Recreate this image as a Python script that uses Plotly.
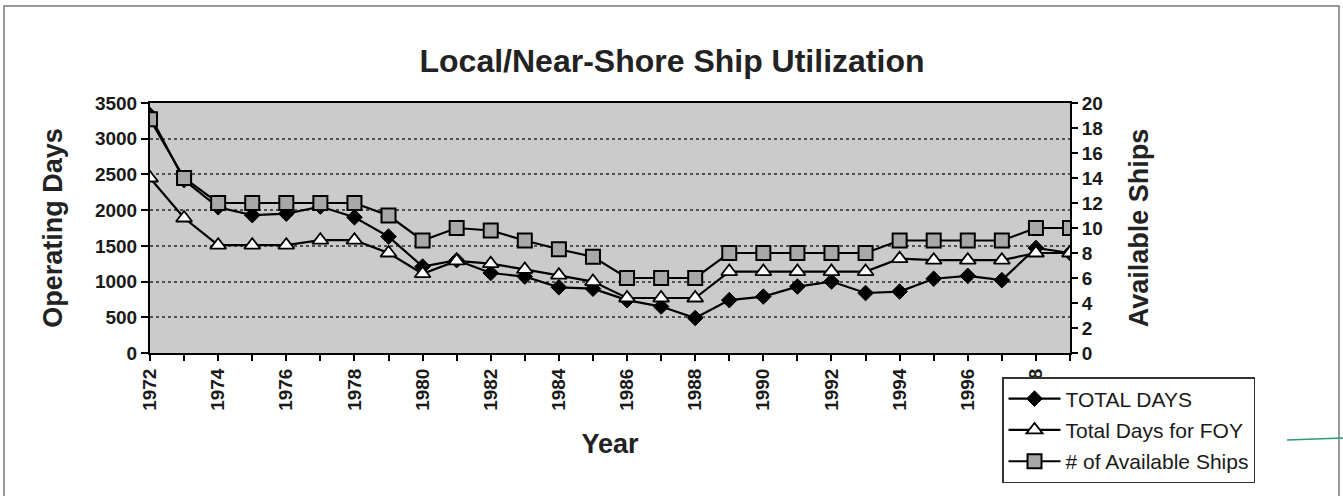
import plotly.graph_objects as go

years = [1972, 1973, 1974, 1975, 1976, 1977, 1978, 1979, 1980, 1981, 1982, 1983, 1984, 1985,
         1986, 1987, 1988, 1989, 1990, 1991, 1992, 1993, 1994, 1995, 1996, 1997, 1998, 1999]
total_days = [3330, 2420, 2040, 1930, 1950, 2050, 1900, 1630, 1210, 1300, 1120, 1070, 920, 900,
              740, 650, 490, 740, 790, 930, 1000, 840, 860, 1040, 1080, 1020, 1470, 1400]
total_days_foy = [2450, 1890, 1510, 1510, 1510, 1580, 1580, 1400, 1110, 1290, 1250, 1170, 1090, 1000,
                  770, 770, 770, 1140, 1140, 1140, 1140, 1140, 1320, 1300, 1300, 1300, 1400, 1400]
available_ships = [18.7, 14, 12, 12, 12, 12, 12, 11, 9, 10, 9.8, 9, 8.3, 7.7,
                   6, 6, 6, 8, 8, 8, 8, 8, 9, 9, 9, 9, 10, 10]
left_ticks = [0, 500, 1000, 1500, 2000, 2500, 3000, 3500]
right_ticks = [0, 2, 4, 6, 8, 10, 12, 14, 16, 18, 20]
x_label_years = list(range(1972, 1999, 2))

FONT = "Arial, Liberation Sans, sans-serif"
W, H = 1343, 496
L, R, T, B = 150, 273, 103, 143
PW, PH = W - L - R, H - T - B

def px(x):
    return (x - L) / PW

def py(y):
    return (H - B - y) / PH

tickfont = dict(family=FONT, size=19, color="#1a1a1a", weight="bold")
titlefont = dict(family=FONT, size=27, color="#222", weight="bold")

fig = go.Figure()
fig.add_trace(go.Scatter(
    x=years, y=total_days, name="TOTAL DAYS", mode="lines+markers",
    line=dict(color="black", width=2.2),
    marker=dict(symbol="diamond", size=12, color="black", line=dict(color="black", width=1)),
    legendgroup="a"))
fig.add_trace(go.Scatter(
    x=years, y=total_days_foy, name="Total Days for FOY", mode="lines+markers",
    line=dict(color="black", width=2.2),
    marker=dict(symbol="triangle-up", size=14, color="white", line=dict(color="black", width=1.8)),
    legendgroup="b"))
fig.add_trace(go.Scatter(
    x=years, y=available_ships, name="# of Available Ships", mode="lines+markers", yaxis="y2",
    line=dict(color="black", width=2.2),
    marker=dict(symbol="square", size=14, color="#a8a8a8", line=dict(color="black", width=2)),
    legendgroup="c"))

fig.update_layout(
    width=W, height=H,
    margin=dict(l=L, r=R, t=T, b=B),
    paper_bgcolor="white",
    plot_bgcolor="#cbcbcb",
    font=dict(family=FONT, color="#1a1a1a"),
    title=dict(text="Local/Near-Shore Ship Utilization", x=672 / W, xanchor="center",
               y=1 - 61 / H, yanchor="middle",
               font=dict(family=FONT, size=32, color="#222", weight="bold")),
    xaxis=dict(
        range=[1972, 1999], tickmode="array", tickvals=x_label_years,
        ticktext=[str(v) for v in x_label_years], tickangle=-90,
        ticks="outside", ticklen=6, tickcolor="black", tickwidth=1.5,
        minor=dict(dtick=1, tick0=1972, ticks="outside", ticklen=6, tickcolor="black",
                   tickwidth=1.5, showgrid=False),
        tickfont=tickfont,
        showline=True, linecolor="black", linewidth=2, mirror=True,
        showgrid=False, zeroline=False,
        title=dict(text="Year", standoff=24, font=titlefont),
    ),
    yaxis=dict(
        range=[0, 3500], tickmode="array", tickvals=left_ticks,
        ticks="outside", ticklen=7, tickcolor="black", tickwidth=1.5,
        tickfont=tickfont,
        showline=True, linecolor="black", linewidth=2, mirror=True,
        showgrid=True, gridcolor="#505050", griddash="dot", gridwidth=1.5, zeroline=False,
        title=dict(text="Operating Days", standoff=24, font=titlefont),
    ),
    yaxis2=dict(
        range=[0, 20], overlaying="y", side="right", tickmode="array", tickvals=right_ticks,
        ticks="outside", ticklen=7, tickcolor="black", tickwidth=1.5,
        tickfont=tickfont,
        showline=False, showgrid=False, zeroline=False,
        title=dict(text="Available Ships", standoff=26, font=titlefont),
    ),
    legend=dict(
        x=px(1002), y=py(377), xanchor="left", yanchor="top",
        bgcolor="white", bordercolor="#333", borderwidth=1.5,
        font=dict(family=FONT, size=21, color="#1a1a1a"),
        traceorder="grouped", tracegroupgap=1, itemwidth=52,
    ),
    showlegend=True,
    shapes=[
        dict(type="rect", xref="paper", yref="paper",
             x0=px(4), x1=px(1339), y0=py(505), y1=py(6),
             line=dict(color="#777", width=1.5), fillcolor="rgba(0,0,0,0)", layer="below"),
        dict(type="line", xref="paper", yref="paper",
             x0=px(1287), x1=px(1343), y0=py(440), y1=py(438),
             line=dict(color="#2e9a72", width=1.5)),
    ],
)

fig.write_html("out.html", config={"displayModeBar": False},
               post_script="document.body.style.margin='0';document.body.style.overflow='hidden';")
